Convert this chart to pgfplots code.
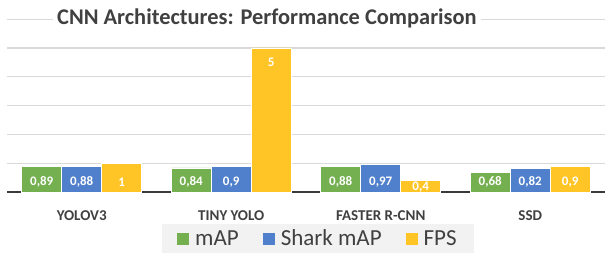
\documentclass[border=0pt]{standalone}
\usepackage{fontspec}
\setmainfont{Carlito}
\usepackage{pgfplots}
\pgfplotsset{compat=1.18}
\definecolor{cGreen}{HTML}{74AF50}
\definecolor{cBlue}{HTML}{5080CC}
\definecolor{cYellow}{HTML}{FFC526}
\definecolor{gridgray}{HTML}{D9D9D9}
\definecolor{axisgray}{HTML}{3A3A3A}
\definecolor{txtgray}{HTML}{404040}
\definecolor{legbg}{HTML}{F2F2F2}
\begin{document}
\begin{tikzpicture}
\useasboundingbox[fill=white] (0,0) rectangle (605bp,254bp);
\begin{axis}[
  at={(7bp,62bp)}, anchor=south west,
  scale only axis, width=598bp, height=172.8bp,
  xmin=-0.5, xmax=3.5, ymin=0, ymax=6,
  xtick={0,1,2,3}, xticklabels={YOLOV3,TINY YOLO,FASTER R-CNN,SSD},
  ytick={1,2,3,4,5,6}, yticklabels={},
  ymajorgrids, grid style={draw=gridgray, line width=1.2bp},
  axis x line*=bottom, axis y line*=left,
  x axis line style={draw=axisgray, line width=1.6bp, -},
  y axis line style={draw=none},
  xtick style={draw=none}, ytick style={draw=none},
  xticklabel style={font=\fontsize{15bp}{18bp}\selectfont\bfseries, text=txtgray, anchor=base, yshift=-24bp},
  ybar, bar width=40bp,
  clip=false,
  nodes near coords,
  visualization depends on={rawy \as \rawy},
  nodes near coords style={font=\fontsize{13bp}{15bp}\selectfont\bfseries, text=white, anchor=center,
    /pgf/number format/assume math mode=true, /pgf/number format/use comma,
    yshift={(\rawy>2 ? -14 : (\rawy<0.5 ? 5-\rawy*28.8 : 10-\rawy*28.8))*1bp}},
  legend columns=3,
  legend style={cells={inner xsep=1bp, inner ysep=1bp},
    at={(0.52,-0.27)}, anchor=center, fill=legbg, draw=none,
    font=\fontsize{23bp}{27bp}\selectfont, text=txtgray,
    inner xsep=15bp, inner ysep=4bp,
    /tikz/every odd column/.append style={column sep=4bp},
    /tikz/every even column/.append style={column sep=22bp}},
  legend image code/.code={\fill[#1, draw=none] (0bp,-6bp) rectangle (12bp,6bp);},
]
\addplot[fill=cGreen, draw=white, line width=0.6bp, bar shift=-40bp] coordinates {(0,0.89) (1,0.84) (2,0.88) (3,0.68)};
\addlegendentry{mAP}
\addplot[fill=cBlue, draw=white, line width=0.6bp, bar shift=0bp] coordinates {(0,0.88) (1,0.9) (2,0.97) (3,0.82)};
\addlegendentry{Shark mAP}
\addplot[fill=cYellow, draw=white, line width=0.6bp, bar shift=40bp] coordinates {(0,1) (1,5) (2,0.4) (3,0.9)};
\addlegendentry{FPS}
\end{axis}
\node[fill=white, inner xsep=4bp, inner ysep=2bp, text=txtgray, font=\fontsize{22.4bp}{26bp}\selectfont\bfseries] at (267bp,236bp) {CNN Architectures: Performance Comparison};
\end{tikzpicture}
\end{document}
